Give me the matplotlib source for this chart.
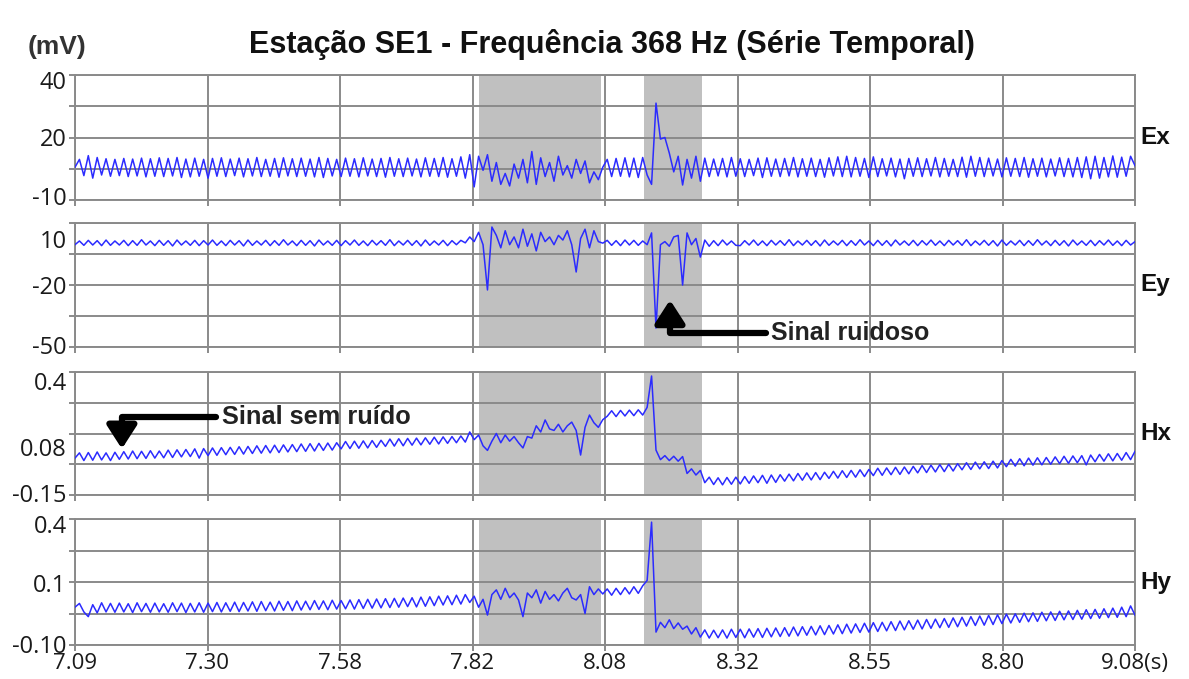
import numpy as np
import matplotlib
matplotlib.use("Agg")
import matplotlib.pyplot as plt
from matplotlib.transforms import blended_transform_factory

# ---------------- data ----------------
t_start, t_end = 7.09, 9.08
x_tick_labels = ["7.09", "7.30", "7.58", "7.82", "8.08", "8.32", "8.55", "8.80", "9.08(s)"]
noise_windows = [(7.848, 8.077), (8.158, 8.267)]
title = "Estação SE1 - Frequência 368 Hz (Série Temporal)"
channels = ["Ex", "Ey", "Hx", "Hy"]

ex_tick_labels = ["40", "20", "-10"]
ey_tick_labels = ["10", "-20", "-50"]
hx_tick_labels = ["0.4", "0.08", "-0.15"]
hy_tick_labels = ["0.4", "0.1", "-0.10"]

# signal samples (display grid units, 0 = panel bottom, 4 = panel top)
ex = [
    1.05, 1.30, 0.78, 1.42, 0.70, 1.36, 0.80, 1.32, 0.76, 1.30,
    0.78, 1.33, 0.75, 1.31, 0.77, 1.34, 0.74, 1.32, 0.76, 1.35,
    0.75, 1.33, 0.77, 1.36, 0.72, 1.31, 0.74, 1.34, 0.76, 1.30,
    0.70, 1.33, 0.76, 1.35, 0.75, 1.31, 0.78, 1.34, 0.74, 1.32,
    0.77, 1.36, 0.75, 1.30, 0.76, 1.33, 0.73, 1.35, 0.77, 1.32,
    0.75, 1.34, 0.76, 1.31, 0.74, 1.36, 0.72, 1.33, 0.77, 1.30,
    0.75, 1.34, 0.76, 1.32, 0.74, 1.35, 0.77, 1.31, 0.75, 1.33,
    0.73, 1.36, 0.76, 1.32, 0.75, 1.34, 0.77, 1.31, 0.74, 1.35,
    0.76, 1.33, 0.75, 1.36, 0.73, 1.32, 0.76, 1.38, 0.70, 1.45,
    0.42, 1.40, 0.95, 1.45, 0.60, 1.20, 0.50, 0.85, 0.45, 1.15,
    0.70, 1.30, 0.55, 1.55, 0.50, 1.35, 0.75, 1.20, 0.60, 1.40,
    0.80, 1.10, 0.70, 1.30, 0.85, 1.25, 0.55, 0.90, 0.65, 1.05,
    1.30, 0.75, 1.33, 0.76, 1.35, 0.74, 1.34, 0.72, 1.36, 0.80,
    0.50, 3.10, 1.95, 2.00, 1.50, 0.90, 1.40, 0.48, 1.30, 0.70,
    1.40, 0.60, 1.34, 0.75, 1.31, 0.77, 1.33, 0.74, 1.36, 0.76,
    1.32, 0.75, 1.30, 0.78, 1.34, 0.72, 1.35, 0.76, 1.31, 0.75,
    1.33, 0.77, 1.36, 0.74, 1.32, 0.76, 1.34, 0.75, 1.30, 0.73,
    1.35, 0.77, 1.38, 0.75, 1.40, 0.74, 1.36, 0.76, 1.33, 0.72,
    1.38, 0.75, 1.32, 0.77, 1.34, 0.74, 1.31, 0.68, 1.33, 0.76,
    1.35, 0.75, 1.32, 0.77, 1.36, 0.74, 1.33, 0.76, 1.30, 0.75,
    1.37, 0.73, 1.40, 0.76, 1.36, 0.75, 1.34, 0.77, 1.31, 0.74,
    1.35, 0.76, 1.33, 0.75, 1.36, 0.73, 1.32, 0.76, 1.34, 0.74,
    1.31, 0.77, 1.35, 0.75, 1.33, 0.74, 1.36, 0.72, 1.38, 0.68,
    1.40, 0.70, 1.36, 0.74, 1.41, 0.73, 1.37, 0.76, 1.40, 1.10,
]

ey = [
    3.30, 3.42, 3.28, 3.44, 3.29, 3.43, 3.27, 3.45, 3.28, 3.42,
    3.29, 3.44, 3.27, 3.43, 3.28, 3.46, 3.29, 3.42, 3.27, 3.44,
    3.28, 3.43, 3.26, 3.45, 3.29, 3.42, 3.28, 3.44, 3.27, 3.43,
    3.29, 3.45, 3.28, 3.42, 3.27, 3.44, 3.29, 3.43, 3.26, 3.45,
    3.28, 3.42, 3.29, 3.44, 3.27, 3.43, 3.28, 3.46, 3.29, 3.42,
    3.27, 3.44, 3.28, 3.43, 3.26, 3.45, 3.29, 3.42, 3.28, 3.44,
    3.27, 3.43, 3.29, 3.45, 3.28, 3.42, 3.27, 3.44, 3.29, 3.43,
    3.28, 3.46, 3.27, 3.42, 3.29, 3.44, 3.28, 3.43, 3.26, 3.45,
    3.28, 3.42, 3.29, 3.44, 3.27, 3.43, 3.30, 3.44, 3.36, 3.55,
    3.40, 3.70, 3.30, 1.84, 3.87, 3.60, 3.20, 3.75, 3.30, 3.55,
    3.20, 3.80, 3.25, 3.65, 3.10, 3.70, 3.40, 3.55, 3.30, 3.60,
    3.45, 3.75, 3.30, 2.42, 3.50, 3.80, 3.20, 3.75, 3.40, 3.35,
    3.44, 3.28, 3.43, 3.27, 3.45, 3.29, 3.44, 3.28, 3.42, 3.30,
    3.68, 0.61, 3.30, 3.40, 3.25, 3.55, 3.60, 2.00, 3.68, 3.30,
    3.50, 2.90, 3.45, 3.25, 3.43, 3.27, 3.45, 3.29, 3.42, 3.28,
    3.27, 3.43, 3.29, 3.45, 3.28, 3.42, 3.27, 3.44, 3.29, 3.43,
    3.28, 3.46, 3.27, 3.42, 3.29, 3.44, 3.28, 3.43, 3.26, 3.45,
    3.28, 3.42, 3.29, 3.44, 3.27, 3.43, 3.28, 3.46, 3.29, 3.42,
    3.27, 3.44, 3.28, 3.43, 3.26, 3.45, 3.29, 3.42, 3.28, 3.44,
    3.27, 3.43, 3.29, 3.45, 3.28, 3.42, 3.27, 3.44, 3.29, 3.43,
    3.28, 3.46, 3.27, 3.42, 3.29, 3.44, 3.28, 3.43, 3.26, 3.45,
    3.28, 3.42, 3.29, 3.44, 3.27, 3.43, 3.28, 3.46, 3.29, 3.42,
    3.27, 3.44, 3.28, 3.43, 3.26, 3.45, 3.29, 3.42, 3.28, 3.44,
    3.27, 3.43, 3.29, 3.45, 3.28, 3.42, 3.27, 3.44, 3.29, 3.40,
]

hx = [
    1.20, 1.37, 1.12, 1.38, 1.13, 1.40, 1.14, 1.37, 1.12, 1.39,
    1.16, 1.41, 1.17, 1.43, 1.18, 1.42, 1.19, 1.44, 1.20, 1.43,
    1.21, 1.46, 1.22, 1.47, 1.24, 1.48, 1.25, 1.50, 1.20, 1.51,
    1.28, 1.53, 1.29, 1.54, 1.31, 1.55, 1.32, 1.57, 1.33, 1.58,
    1.35, 1.60, 1.36, 1.61, 1.37, 1.62, 1.38, 1.63, 1.40, 1.64,
    1.41, 1.66, 1.42, 1.67, 1.43, 1.68, 1.45, 1.69, 1.46, 1.70,
    1.50, 1.74, 1.51, 1.75, 1.52, 1.76, 1.53, 1.77, 1.55, 1.78,
    1.58, 1.82, 1.59, 1.83, 1.60, 1.84, 1.62, 1.85, 1.63, 1.86,
    1.65, 1.88, 1.66, 1.89, 1.68, 1.90, 1.70, 1.92, 1.72, 2.05,
    1.80, 1.95, 1.60, 1.45, 1.75, 2.00, 1.70, 1.95, 1.75, 1.90,
    1.70, 1.53, 1.90, 1.85, 2.25, 2.05, 2.44, 2.15, 2.10, 2.30,
    2.05, 2.25, 2.37, 2.10, 1.30, 2.20, 2.60, 2.35, 2.20, 2.45,
    2.56, 2.74, 2.55, 2.75, 2.57, 2.76, 2.58, 2.77, 2.60, 2.85,
    3.87, 1.46, 1.15, 1.28, 1.12, 1.26, 1.10, 1.25, 0.70, 0.85,
    0.65, 0.80, 0.40, 0.58, 0.34, 0.56, 0.33, 0.57, 0.35, 0.58,
    0.36, 0.60, 0.38, 0.62, 0.40, 0.64, 0.38, 0.65, 0.41, 0.66,
    0.45, 0.68, 0.46, 0.70, 0.48, 0.72, 0.49, 0.73, 0.50, 0.74,
    0.54, 0.77, 0.55, 0.79, 0.57, 0.80, 0.58, 0.82, 0.60, 0.83,
    0.63, 0.87, 0.64, 0.88, 0.66, 0.90, 0.67, 0.91, 0.69, 0.93,
    0.72, 0.96, 0.73, 0.97, 0.75, 0.99, 0.76, 1.00, 0.78, 1.02,
    0.82, 1.05, 0.83, 1.07, 0.85, 1.08, 0.86, 1.10, 0.88, 1.12,
    0.92, 1.16, 0.94, 1.18, 0.95, 1.20, 0.97, 1.21, 0.98, 1.22,
    1.00, 1.24, 1.02, 1.26, 1.03, 1.27, 1.05, 1.28, 0.98, 1.30,
    1.08, 1.32, 1.10, 1.34, 1.11, 1.35, 1.13, 1.38, 1.15, 1.42,
]

hy = [
    1.20, 1.32, 1.05, 0.90, 1.28, 1.02, 1.34, 1.05, 1.32, 1.04,
    1.33, 1.05, 1.31, 1.03, 1.34, 1.06, 1.32, 1.04, 1.33, 1.05,
    1.31, 1.04, 1.34, 1.06, 1.33, 1.03, 1.32, 1.05, 1.34, 1.04,
    1.33, 1.06, 1.35, 1.05, 1.34, 1.07, 1.36, 1.06, 1.35, 1.08,
    1.37, 1.07, 1.38, 1.09, 1.36, 1.08, 1.39, 1.10, 1.38, 1.09,
    1.40, 1.11, 1.39, 1.12, 1.41, 1.13, 1.40, 1.12, 1.42, 1.14,
    1.41, 1.15, 1.43, 1.14, 1.44, 1.16, 1.45, 1.17, 1.46, 1.18,
    1.47, 1.19, 1.48, 1.20, 1.49, 1.22, 1.50, 1.21, 1.52, 1.23,
    1.53, 1.25, 1.55, 1.27, 1.56, 1.28, 1.58, 1.30, 1.60, 1.35,
    1.55, 1.20, 1.45, 0.95, 1.60, 1.75, 1.45, 1.80, 1.50, 1.65,
    1.43, 0.90, 1.65, 1.50, 1.75, 1.33, 1.70, 1.45, 1.60, 1.40,
    1.65, 1.80, 1.50, 1.43, 1.60, 1.00, 1.85, 1.60, 1.78, 1.62,
    1.78, 1.58, 1.80, 1.60, 1.82, 1.62, 1.85, 1.64, 1.88, 2.05,
    3.90, 0.41, 0.72, 0.55, 0.80, 0.52, 0.70, 0.50, 0.60, 0.35,
    0.55, 0.25, 0.48, 0.22, 0.47, 0.23, 0.48, 0.22, 0.50, 0.24,
    0.50, 0.23, 0.51, 0.25, 0.52, 0.24, 0.53, 0.26, 0.54, 0.27,
    0.55, 0.28, 0.57, 0.29, 0.58, 0.31, 0.59, 0.32, 0.61, 0.33,
    0.62, 0.35, 0.64, 0.36, 0.66, 0.38, 0.67, 0.40, 0.69, 0.41,
    0.71, 0.43, 0.72, 0.45, 0.74, 0.46, 0.76, 0.48, 0.77, 0.50,
    0.79, 0.51, 0.81, 0.53, 0.82, 0.55, 0.84, 0.56, 0.86, 0.58,
    0.88, 0.60, 0.90, 0.62, 0.92, 0.63, 0.94, 0.65, 0.96, 0.68,
    0.98, 0.70, 0.99, 0.72, 1.01, 0.74, 1.02, 0.75, 1.04, 0.77,
    1.05, 0.78, 1.07, 0.80, 1.08, 0.81, 1.10, 0.82, 1.12, 0.84,
    1.13, 0.85, 1.15, 0.87, 1.17, 0.88, 1.20, 0.90, 1.24, 0.95,
]

series = {"Ex": ex, "Ey": ey, "Hx": hx, "Hy": hy}
tick_labels = {"Ex": ex_tick_labels, "Ey": ey_tick_labels,
               "Hx": hx_tick_labels, "Hy": hy_tick_labels}

# ---------------- layout / style ----------------
W, H = 1189, 679
boxes = {"Ex": (75, 75, 1135, 200), "Ey": (75, 223, 1135, 347),
         "Hx": (75, 372, 1135, 495), "Hy": (75, 519, 1135, 645)}
label_pos = {"Ex": [3.84, 2.0, 0.13], "Ey": [3.48, 2.0, 0.06],
             "Hx": [3.71, 1.56, 0.08], "Hy": [3.84, 1.97, 0.02]}
GRID = "#8a8a8a"
LINE = "#2b2bff"
SHADE = "#c0c0c0"
TICKFONT = "Open Sans"
BOLDFONT = "Liberation Sans"

fig = plt.figure(figsize=(W / 100, H / 100), dpi=100)
fig.patch.set_facecolor("white")

axes = {}
for name in channels:
    x0, y0, x1, y1 = boxes[name]
    ax = fig.add_axes([x0 / W, 1 - y1 / H, (x1 - x0) / W, (y1 - y0) / H])
    axes[name] = ax
    vals = series[name]
    t = np.linspace(t_start, t_end, len(vals))
    for a, b in noise_windows:
        ax.axvspan(a, b, color=SHADE, lw=0, zorder=0.5)
    ax.plot(t, vals, color=LINE, lw=1.1, zorder=3)
    ax.set_xlim(t_start, t_end)
    ax.set_ylim(0, 4)
    ax.set_xticks(np.linspace(t_start, t_end, len(x_tick_labels)))
    ax.set_yticks([0, 1, 2, 3, 4])
    ax.yaxis.remove_overlapping_locs = False
    ax.grid(True, which="major", color=GRID, lw=1.4)
    ax.tick_params(which="major", length=4, width=1.4, color=GRID,
                   labelleft=False, labelbottom=(name == "Hy"))
    ax.set_yticks(label_pos[name], minor=True)
    ax.set_yticklabels(tick_labels[name], minor=True,
                       fontsize=17, family=TICKFONT, color="#1a1a1a")
    ax.tick_params(axis="y", which="minor", length=0, pad=6)
    for s in ax.spines.values():
        s.set_color(GRID)
        s.set_linewidth(1.4)
    tr = blended_transform_factory(ax.transAxes, ax.transData)
    ax.text(1.005, 2.0, name, transform=tr, fontsize=17.5, weight="bold",
            family=BOLDFONT, ha="left", va="center", color="#111111")

axb = axes["Hy"]
axb.set_xticklabels(x_tick_labels, fontsize=16, family=TICKFONT, color="#1a1a1a")
axb.tick_params(axis="x", pad=2)

fig.text(611.5 / W, 1 - 45 / H, title, ha="center", va="center",
         fontsize=22, weight="bold", family=BOLDFONT, color="#111111")
fig.text(57 / W, 1 - 47 / H, "(mV)", ha="center", va="center",
         fontsize=19, weight="bold", family=BOLDFONT, color="#333333")

arrow_kw = dict(arrowstyle="-|>,head_width=0.45,head_length=0.7",
                connectionstyle="angle,angleA=0,angleB=90,rad=0",
                color="black", lw=4.5, mutation_scale=20, shrinkA=2, shrinkB=0)

axes["Ey"].annotate("Sinal ruidoso", xy=(8.207, 1.52), xytext=(8.397, 0.45),
                    ha="left", va="center", fontsize=18, weight="bold",
                    family=BOLDFONT, color="#222222", arrowprops=arrow_kw,
                    zorder=5)
axes["Hx"].annotate("Sinal sem ruído", xy=(7.178, 1.50), xytext=(7.366, 2.54),
                    ha="left", va="center", fontsize=18.3, weight="bold",
                    family=BOLDFONT, color="#222222", arrowprops=arrow_kw,
                    zorder=5)

fig.savefig("out.png", dpi=100)
